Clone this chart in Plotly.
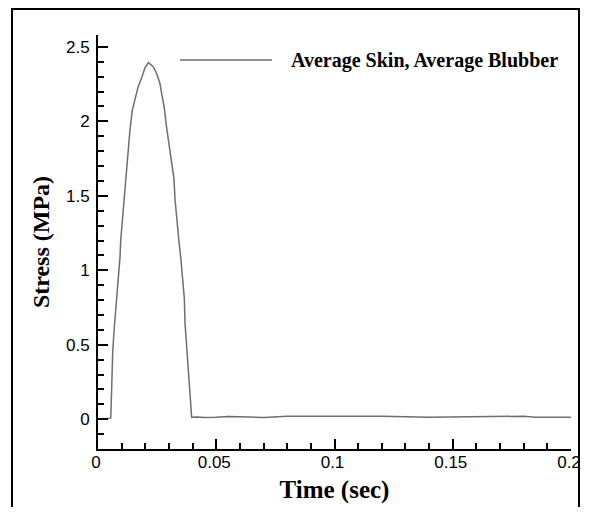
import plotly.graph_objects as go

# Data
time_sec = [0.0, 0.0054, 0.0058, 0.0062, 0.0068, 0.0083, 0.0085, 0.0093, 0.0096, 0.0103,
            0.0110, 0.0117, 0.0127, 0.0135, 0.0145, 0.0156, 0.0169, 0.0185, 0.0199, 0.0213,
            0.0233, 0.0248, 0.0262, 0.0269, 0.0280, 0.0290, 0.0304, 0.0321, 0.0326, 0.0333,
            0.0342, 0.0351, 0.0358, 0.0365, 0.0368, 0.0375, 0.0382, 0.0389, 0.0396,
            0.042, 0.045, 0.050, 0.055, 0.060, 0.070, 0.080, 0.100, 0.120, 0.140,
            0.150, 0.160, 0.170, 0.180, 0.185, 0.200]
stress_mpa = [0.0, 0.007, 0.215, 0.443, 0.597, 0.866, 0.953, 1.087, 1.20, 1.336,
              1.47, 1.604, 1.826, 1.94, 2.074, 2.141, 2.228, 2.295, 2.362, 2.395,
              2.369, 2.322, 2.255, 2.188, 2.094, 1.96, 1.805, 1.617, 1.47, 1.336,
              1.20, 1.067, 0.933, 0.812, 0.644, 0.483, 0.309, 0.128, 0.013,
              0.015, 0.012, 0.013, 0.018, 0.017, 0.012, 0.020, 0.020, 0.020, 0.014,
              0.016, 0.015, 0.020, 0.020, 0.013, 0.013]
series_name = "Average Skin, Average Blubber"
x_ticks = [0, 0.05, 0.1, 0.15, 0.2]
y_ticks = [0, 0.5, 1, 1.5, 2, 2.5]

curve_color = "#6e6e6e"
serif = "Liberation Serif, Times New Roman, serif"
sans = "Liberation Sans, Arial, sans-serif"

fig = go.Figure()
fig.add_trace(go.Scatter(x=time_sec, y=stress_mpa, mode="lines", name=series_name,
                         line=dict(color=curve_color, width=1.5), showlegend=False))

axis_common = dict(showline=True, linecolor="black", linewidth=2, showgrid=False, zeroline=False,
                   ticks="inside", ticklen=10, tickwidth=1.5, tickcolor="black", automargin=False,
                   tickfont=dict(family=sans, size=17, color="black"), ticklabeloverflow="allow")

fig.update_xaxes(range=[0, 0.2], tickvals=x_ticks, ticktext=[str(v) for v in x_ticks],
                 minor=dict(dtick=0.01, ticks="inside", ticklen=6, tickwidth=1.5, tickcolor="black"),
                 ticklabelshift=-2, ticklabelstandoff=-3,
                 title=dict(text="<b>Time (sec)</b>", font=dict(family=serif, size=25, color="black"),
                            standoff=9),
                 **axis_common)
fig.update_yaxes(range=[-0.2, 2.58], tickvals=y_ticks, ticktext=[str(v) for v in y_ticks],
                 minor=dict(dtick=0.1, ticks="inside", ticklen=6, tickwidth=1.5, tickcolor="black"),
                 ticklabelstandoff=3,
                 title=dict(text="<b>Stress (MPa)</b>", font=dict(family=serif, size=24, color="black"),
                            standoff=10),
                 **axis_common)

# Legend drawn as a line sample with a label
fig.add_shape(type="line", xref="paper", yref="paper", x0=0.1734, x1=0.3679, y0=0.9396, y1=0.9396,
              line=dict(color=curve_color, width=1.5))
fig.add_annotation(xref="paper", yref="paper", x=0.4038, y=0.9396, xanchor="left", yanchor="middle",
                   text="<b>" + series_name + "</b>", showarrow=False,
                   font=dict(family=serif, size=20, color="black"))

# Outer frame
fig.add_shape(type="rect", xref="paper", yref="paper", x0=-0.1818, x1=1.0169, y0=-0.2, y1=1.0628,
              line=dict(color="black", width=2))

fig.update_layout(width=573, height=499, margin=dict(l=90, r=10, t=27, b=58, autoexpand=False),
                  paper_bgcolor="white", plot_bgcolor="white")

fig.write_html("out.html")
